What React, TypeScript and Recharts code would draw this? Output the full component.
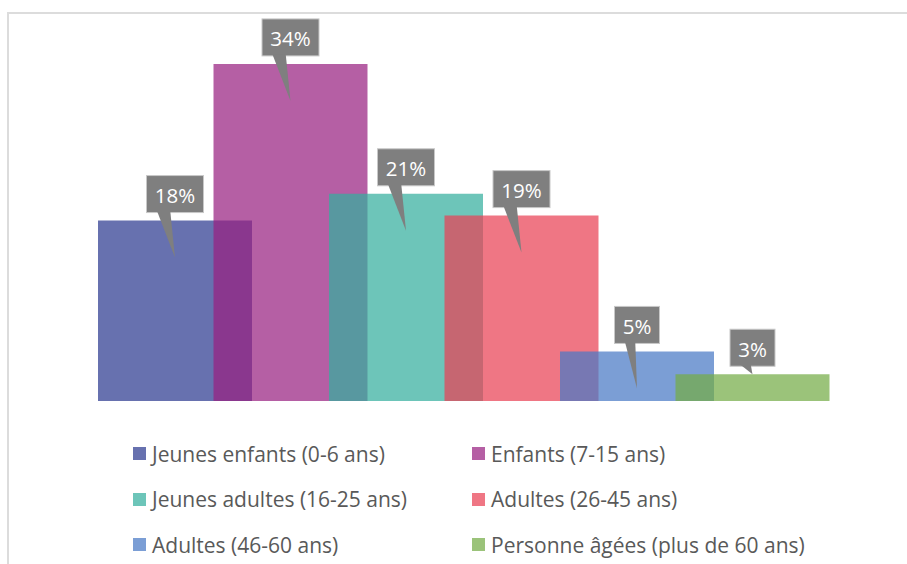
import { BarChart, Bar, XAxis, YAxis } from 'recharts';

// tranches d'âge et parts (%)
const categories = [
  'Jeunes enfants (0-6 ans)',
  'Enfants (7-15 ans)',
  'Jeunes adultes (16-25 ans)',
  'Adultes (26-45 ans)',
  'Adultes (46-60 ans)',
  'Personne âgées (plus de 60 ans)',
];
const shares = [18.2, 34, 20.9, 18.7, 5, 2.7];
const colors = ['#2c3a90', '#982181', '#34ae9e', '#e94154', '#4878c5', '#74ac47'];
const keys = categories.map((_, i) => `s${i}`);

const row: Record<string, string | number> = { name: 'Tranches' };
keys.forEach((k, i) => {
  row[k] = shares[i];
});
const data = [row];

const FONT = '"Open Sans", sans-serif';

const Callout = (props: any) => {
  const vb = props.viewBox || {};
  const x = props.x ?? vb.x;
  const y = props.y ?? vb.y;
  const width = props.width ?? vb.width;
  const height = props.height ?? vb.height;
  const text = `${Math.round(Number(props.value))}%`;
  const w = 21 + 12 * text.length;
  const h = 37;
  const cx = x + width / 2;
  const left = cx - w / 2;
  const bottom = y - 8;
  const tipY = height > 40 ? y + 37 : y;
  const b0 = left + 10;
  const b1 = left + 10 + w * 0.25;
  return (
    <g>
      <rect x={left} y={bottom - h} width={w} height={h} fill="#7f7f7f" stroke="#c8c8c8" strokeWidth={1} />
      <polygon points={`${b0 + 0.5},${bottom - 1.5} ${b1 - 0.5},${bottom - 1.5} ${cx},${tipY}`} fill="#7f7f7f" />
      <text
        x={left + w / 2}
        y={bottom - h / 2 + 1}
        textAnchor="middle"
        dominantBaseline="central"
        fill="#ffffff"
        fontFamily={FONT}
        fontSize={20.5}
      >
        {text}
      </text>
    </g>
  );
};

export default function App() {
  return (
    <div
      style={{
        position: 'fixed',
        left: 0,
        top: 0,
        width: 907,
        height: 564,
        overflow: 'hidden',
        background: '#fff',
      }}
    >
      <div
        style={{
          position: 'absolute',
          left: 7,
          top: 12,
          width: 940,
          height: 600,
          border: '2px solid #dcdcdc',
        }}
      />
      <div style={{ position: 'absolute', left: 0, top: 0 }}>
        <BarChart
          width={907}
          height={564}
          data={data}
          margin={{ top: 54, right: 73, bottom: 163, left: 93 }}
          barCategoryGap={0}
          barGap={-38.5}
        >
          <XAxis dataKey="name" hide />
          <YAxis domain={[0, 35]} hide />
          {keys.map((k, i) => (
            <Bar
              key={k}
              dataKey={k}
              name={categories[i]}
              fill={colors[i]}
              fillOpacity={0.72}
              barSize={154}
              isAnimationActive={false}
              label={(p: any) => <Callout {...p} />}
            />
          ))}
        </BarChart>
      </div>
      <div
        style={{
          position: 'absolute',
          left: 133,
          top: 431,
          display: 'grid',
          gridTemplateColumns: '339px auto',
          fontFamily: FONT,
          fontSize: 21,
          color: '#595959',
        }}
      >
        {categories.map((c, i) => (
          <div key={c} style={{ display: 'flex', alignItems: 'center', height: 45.5 }}>
            <span
              style={{
                display: 'inline-block',
                width: 13,
                height: 13,
                background: colors[i],
                opacity: 0.72,
                marginRight: 6,
              }}
            />
            <span style={{ whiteSpace: 'nowrap' }}>{c}</span>
          </div>
        ))}
      </div>
    </div>
  );
}
